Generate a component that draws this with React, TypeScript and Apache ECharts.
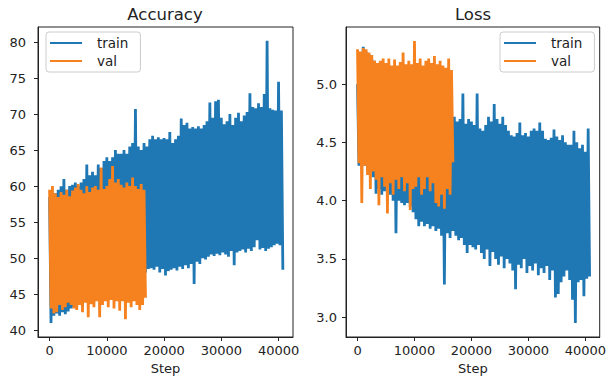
import React, { useEffect, useRef } from "react";
import * as echarts from "echarts";

const TRAIN_LOG_INTERVAL = 500;
const VAL_LOG_INTERVAL = 500;

const accTrainHigh = [
  58.5, 58.5, 59, 59.5, 60, 61, 59.5, 60, 60.2, 60.5,
  60, 60.5, 61, 63, 61.5, 62, 61.5, 63, 62.5, 63.5,
  64, 63.5, 64, 65, 64.5, 64.5, 65, 64.5, 65.5, 66,
  70.7, 65.5, 65, 66, 65.5, 66.5, 67, 66.5, 66.8, 66.5,
  66.7, 66.5, 67.5, 66, 66.5, 67, 69.4, 68.5, 68.8, 68,
  68.2, 68, 68.3, 68, 68.5, 69, 71.6, 69.5, 71.8, 72,
  69.5, 68.6, 69, 70, 68.5, 69.5, 70.2, 69, 69.8, 70.3,
  72.9, 71, 70.8, 71.5, 71, 72.8, 80.2, 70.8, 70.6, 70.5,
  74.5, 70.5,
];
const accTrainLow = [
  41, 42, 42.3, 42, 42.5, 42.2, 42.6, 43, 43.2, 43.5,
  43.8, 44, 44.2, 44.5, 44.5, 44.8, 45, 45, 45.2, 45.5,
  45.5, 45.8, 46, 46, 46.3, 46.5, 46.5, 46.8, 47, 47,
  47.3, 47.5, 47.8, 48, 48.5, 48.6, 48.4, 48.8, 48, 48.5,
  47.6, 48.2, 48.4, 48.6, 48.3, 48.8, 48.5, 49, 48.6, 49.2,
  46.4, 49.5, 49.2, 50, 49.8, 50.2, 50.5, 50.3, 50.6, 50.4,
  50.8, 50.5, 50.2, 51, 49, 50.8, 51, 51.2, 50.8, 51.3,
  51, 51.5, 52.5, 51.2, 51.4, 51, 51.3, 51.5, 51.8, 52,
  51.8, 48.4,
];
const accValHigh = [
  59.5, 60, 59, 58.5, 59.2, 58.8, 59.5, 58.6, 59.4, 59.8,
  60.3, 59.5, 59, 60, 59.2, 59.8, 60, 59.5, 62.6, 59.6,
  60, 61, 62.8, 60.5, 61, 60.2, 59.8, 60.5, 60, 61.2,
  60, 59.6, 60.3, 59.5,
];
const accValLow = [
  43, 42.3, 42.5, 43.5, 42.8, 43.2, 43.8, 43.5, 43, 42.8,
  43.5, 42.5, 43.8, 41.8, 43.6, 43.2, 44, 41.8, 43.5, 44,
  43.2, 44.2, 43, 44, 42.7, 44, 41.5, 43.8, 43.2, 44,
  43.5, 42.8, 43.5, 44.5,
];

const lossTrainHigh = [
  5.0, 5.25, 5.32, 5.28, 5.26, 5.22, 5.2, 5.15, 5.1, 5.08,
  5.05, 5.0, 5.0, 4.98, 4.96, 4.95, 4.92, 4.9, 4.9, 4.88,
  4.86, 4.85, 4.84, 4.82, 4.8, 4.8, 4.78, 4.77, 4.75, 4.75,
  4.74, 4.73, 4.72, 4.72, 4.72, 4.68, 4.7, 4.92, 4.66, 4.7,
  4.68, 4.65, 4.92, 4.62, 4.6, 4.65, 4.72, 4.68, 4.83, 4.7,
  4.66, 4.72, 4.65, 4.6, 4.56, 4.55, 4.58, 4.67, 4.56, 4.58,
  4.55, 4.6, 4.62, 4.6, 4.67, 4.6, 4.53, 4.52, 4.54, 4.61,
  4.55, 4.52, 4.56, 4.5, 4.48, 4.48, 4.6, 4.5, 4.45, 4.48,
  4.42, 4.62,
];
const lossTrainLow = [
  4.3, 4.35, 4.3, 4.3, 4.25, 4.2, 4.06, 4.1, 4.05, 4.08,
  4.03, 4.05, 4.0, 3.72, 4.0, 3.98, 3.96, 3.98, 3.95, 3.9,
  3.84, 3.78, 3.82, 3.78, 3.8, 3.76, 3.78, 3.74, 3.76, 3.7,
  3.28, 3.72, 3.68, 3.74, 3.7, 3.66, 3.68, 3.62, 3.55, 3.62,
  3.6, 3.58, 3.62, 3.55, 3.5, 3.58, 3.44, 3.56, 3.5, 3.45,
  3.52, 3.42, 3.5, 3.46, 3.4, 3.24, 3.45, 3.42, 3.5, 3.38,
  3.44, 3.4, 3.46, 3.36, 3.42, 3.38, 3.44, 3.32, 3.4, 3.17,
  3.2, 3.3, 3.35, 3.4, 3.32, 3.15, 2.95, 3.3, 3.32, 3.18,
  3.33, 3.35,
];
const lossValHigh = [
  5.3, 5.28, 5.31, 5.3, 5.27, 5.25, 5.2, 5.18, 5.2, 5.22,
  5.18, 5.22, 5.16, 5.21, 5.16, 5.19, 5.27, 5.17, 5.2, 5.17,
  5.37, 5.18, 5.22, 5.16, 5.2, 5.22, 5.18, 5.24, 5.17, 5.2,
  5.16, 5.14, 5.22, 5.12,
];
const lossValLow = [
  4.32, 3.98, 4.3, 4.22, 4.1, 4.25, 4.18, 3.96, 4.2, 4.12,
  3.89, 4.15, 4.05, 4.18, 4.1, 4.2, 4.08, 4.15, 3.92, 4.1,
  4.12, 4.2, 4.05, 4.1, 4.2, 4.08, 4.15, 3.98, 3.95, 4.05,
  3.93, 4.1, 4.05, 4.33,
];

const stepTicks = [0, 10000, 20000, 30000, 40000];
const accTicks = [40, 45, 50, 55, 60, 65, 70, 75, 80];
const lossTicks = [3.0, 3.5, 4.0, 4.5, 5.0];
const seriesNames = ["train", "val"];

const BLUE = "#1f77b4";
const ORANGE = "#f5811f";
const INK = "#222";
const FONT = "DejaVu Sans";

// alternate between the high and low reading of each logging interval
function noisyTrace(high: number[], low: number[], interval: number) {
  const pts: number[][] = [];
  const n = Math.min(high.length, low.length);
  for (let i = 0; i < n; i++) {
    const s = i * interval;
    pts.push([s, high[i]]);
    pts.push([s + interval / 2, low[i]]);
  }
  return pts;
}

export default function App() {
  const ref = useRef<HTMLDivElement>(null);
  useEffect(() => {
    if (!ref.current) return;
    const chart = echarts.init(ref.current, null, { renderer: "svg" });
    const grids = [
      { left: 38, top: 27, width: 255, height: 316 },
      { left: 346, top: 27, width: 255, height: 316 },
    ];
    const xAxisFor = (gi: number) => ({
      type: "value",
      gridIndex: gi,
      min: -2025,
      max: 42525,
      splitLine: { show: false },
      axisLine: { show: true, onZero: false, lineStyle: { color: INK, width: 1 } },
      axisTick: { show: true, customValues: stepTicks, length: 4, lineStyle: { color: INK } },
      axisLabel: {
        customValues: stepTicks,
        fontSize: 13,
        fontFamily: FONT,
        color: INK,
        margin: 7,
        formatter: (v: number) => String(Math.round(v)),
      },
      name: "Step",
      nameLocation: "middle",
      nameGap: 25,
      nameTextStyle: { fontSize: 13, fontFamily: FONT, color: INK },
    });
    const yAxisFor = (gi: number, min: number, max: number, ticks: number[], dec: number, margin: number) => ({
      type: "value",
      gridIndex: gi,
      min,
      max,
      splitLine: { show: false },
      axisLine: { show: true, onZero: false, lineStyle: { color: INK, width: 1 } },
      axisTick: { show: true, customValues: ticks, length: 4, lineStyle: { color: INK } },
      axisLabel: {
        customValues: ticks,
        fontSize: 13,
        fontFamily: FONT,
        color: INK,
        margin,
        formatter: (v: number) => v.toFixed(dec),
      },
    });
    const lineSeries = (name: string, color: string, gi: number, data: number[][], z: number) => ({
      type: "line",
      name,
      xAxisIndex: gi,
      yAxisIndex: gi,
      data,
      showSymbol: false,
      symbol: "none",
      silent: true,
      z,
      lineStyle: { color, width: 2.8, join: "miter" },
      itemStyle: { color },
      emphasis: { disabled: true },
    });
    const legendFor = (left: number) => ({
      orient: "vertical",
      left,
      top: 32,
      data: seriesNames,
      icon: "rect",
      itemWidth: 32,
      itemHeight: 2,
      itemGap: 4,
      padding: [4, 12, 4, 4],
      backgroundColor: "rgba(255,255,255,0.8)",
      borderColor: "#ccc",
      borderWidth: 1,
      borderRadius: 3,
      selectedMode: false,
      textStyle: { fontSize: 13.5, fontFamily: FONT, color: INK, padding: [0, 0, 0, 10] },
    });
    chart.setOption({
      animation: false,
      backgroundColor: "#fff",
      grid: grids.map((g) => ({ ...g, show: true, borderColor: INK, borderWidth: 1, backgroundColor: "transparent" })),
      xAxis: [xAxisFor(0), xAxisFor(1)],
      yAxis: [yAxisFor(0, 39.05, 82.1, accTicks, 0, 12), yAxisFor(1, 2.83, 5.49, lossTicks, 1, 9)],
      legend: [legendFor(46), legendFor(500)],
      series: [
        lineSeries("train", BLUE, 0, noisyTrace(accTrainHigh, accTrainLow, TRAIN_LOG_INTERVAL), 2),
        lineSeries("val", ORANGE, 0, noisyTrace(accValHigh, accValLow, VAL_LOG_INTERVAL), 3),
        lineSeries("train", BLUE, 1, noisyTrace(lossTrainHigh, lossTrainLow, TRAIN_LOG_INTERVAL), 2),
        lineSeries("val", ORANGE, 1, noisyTrace(lossValHigh, lossValLow, VAL_LOG_INTERVAL), 3),
      ],
      graphic: [
        { type: "text", x: 165, y: 14, style: { text: "Accuracy", fontSize: 16.5, fontFamily: FONT, fill: INK, align: "center", verticalAlign: "middle" } },
        { type: "text", x: 473, y: 14, style: { text: "Loss", fontSize: 16.5, fontFamily: FONT, fill: INK, align: "center", verticalAlign: "middle" } },
      ],
    });
    return () => chart.dispose();
  }, []);
  return <div ref={ref} style={{ position: "fixed", left: 0, top: 0, width: 609, height: 380 }} />;
}
